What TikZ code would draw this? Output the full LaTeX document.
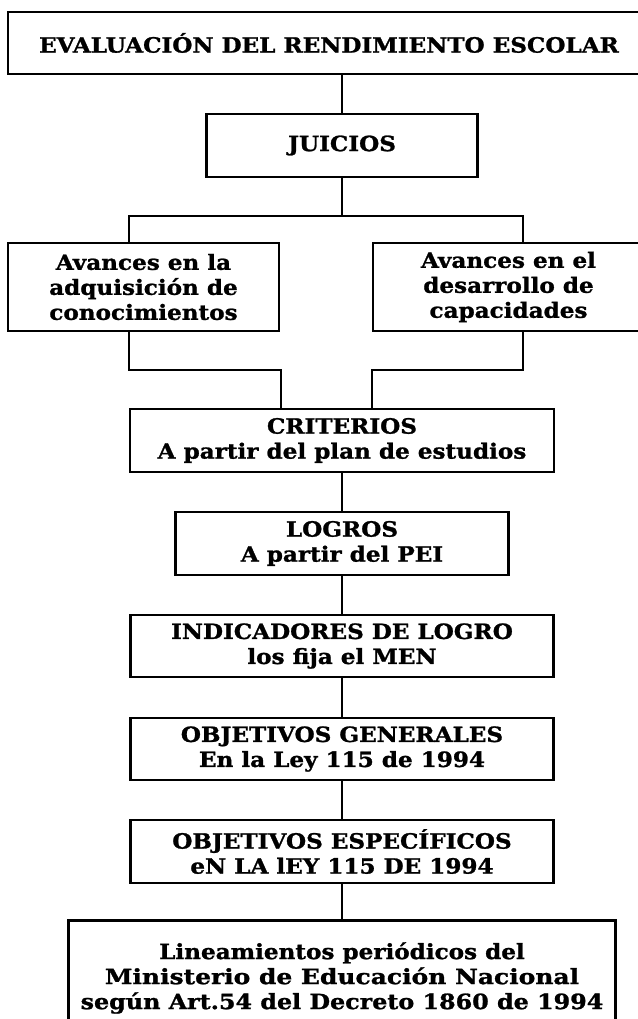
\documentclass[tikz,border=0pt]{standalone}
\usepackage{fontspec}
\setmainfont{DejaVu Serif}[BoldFeatures={FakeStretch=1.1,FakeBold=1.2}]
\begin{document}
\begin{tikzpicture}[x=1pt,y=-1pt,
  box/.style={draw, line width=2.2pt, rectangle, inner sep=0pt, align=center,
    font=\fontsize{21}{25}\selectfont\bfseries},
  conn/.style={line width=2.2pt}]
\useasboundingbox (0,0) rectangle (637,1019);
\node[box, minimum width=642pt, minimum height=62pt] (top) at (329,43) {EVALUACIÓN DEL RENDIMIENTO ESCOLAR};
\node[box, minimum width=271pt, minimum height=63pt] (juicios) at (342,145.5) {JUICIOS};
\node[box, minimum width=271pt, minimum height=88pt] (left) at (143.5,287) {Avances en la\\adquisición de\\conocimientos};
\node[box, minimum width=271pt, minimum height=88pt] (right) at (508.5,287) {Avances en el\\desarrollo de\\capacidades};
\node[box, minimum width=424pt, minimum height=63pt] (crit) at (342,440.5) {CRITERIOS\\A partir del plan de estudios};
\node[box, minimum width=333pt, minimum height=63pt] (logros) at (342,543.5) {LOGROS\\A partir del PEI};
\node[box, minimum width=423pt, minimum height=62pt] (ind) at (342,646) {INDICADORES DE LOGRO\\los fija el MEN};
\node[box, minimum width=423pt, minimum height=62pt] (gen) at (342,749) {OBJETIVOS GENERALES\\En la Ley 115 de 1994};
\node[box, minimum width=423pt, minimum height=63pt] (esp) at (342,851.5) {OBJETIVOS ESPECÍFICOS\\eN LA lEY 115 DE 1994};
\node[box, minimum width=547pt, minimum height=115pt] (lin) at (342,978) {Lineamientos periódicos del\\\scalebox{1.08}[1]{Ministerio de Educación Nacional}\\\scalebox{1.03}[1]{según Art.54 del Decreto 1860 de 1994}};
\coordinate (hl) at (129,216);
\coordinate (hr) at (523,216);
\coordinate (bl) at (129,370);
\coordinate (cl) at (281,370);
\coordinate (br) at (523,370);
\coordinate (cr) at (372,370);
\draw[conn] (juicios.north |- top.south) -- (juicios.north);
\draw[conn] (juicios.south) -- (juicios.south |- hl);
\draw[conn] (hl |- left.north) -- (hl) -- (hr) -- (hr |- right.north);
\draw[conn] (hl |- left.south) -- (bl) -- (cl) -- (cl |- crit.north);
\draw[conn] (hr |- right.south) -- (br) -- (cr) -- (cr |- crit.north);
\draw[conn] (crit) -- (logros);
\draw[conn] (logros) -- (ind);
\draw[conn] (ind) -- (gen);
\draw[conn] (gen) -- (esp);
\draw[conn] (esp) -- (lin);
\end{tikzpicture}
\end{document}
